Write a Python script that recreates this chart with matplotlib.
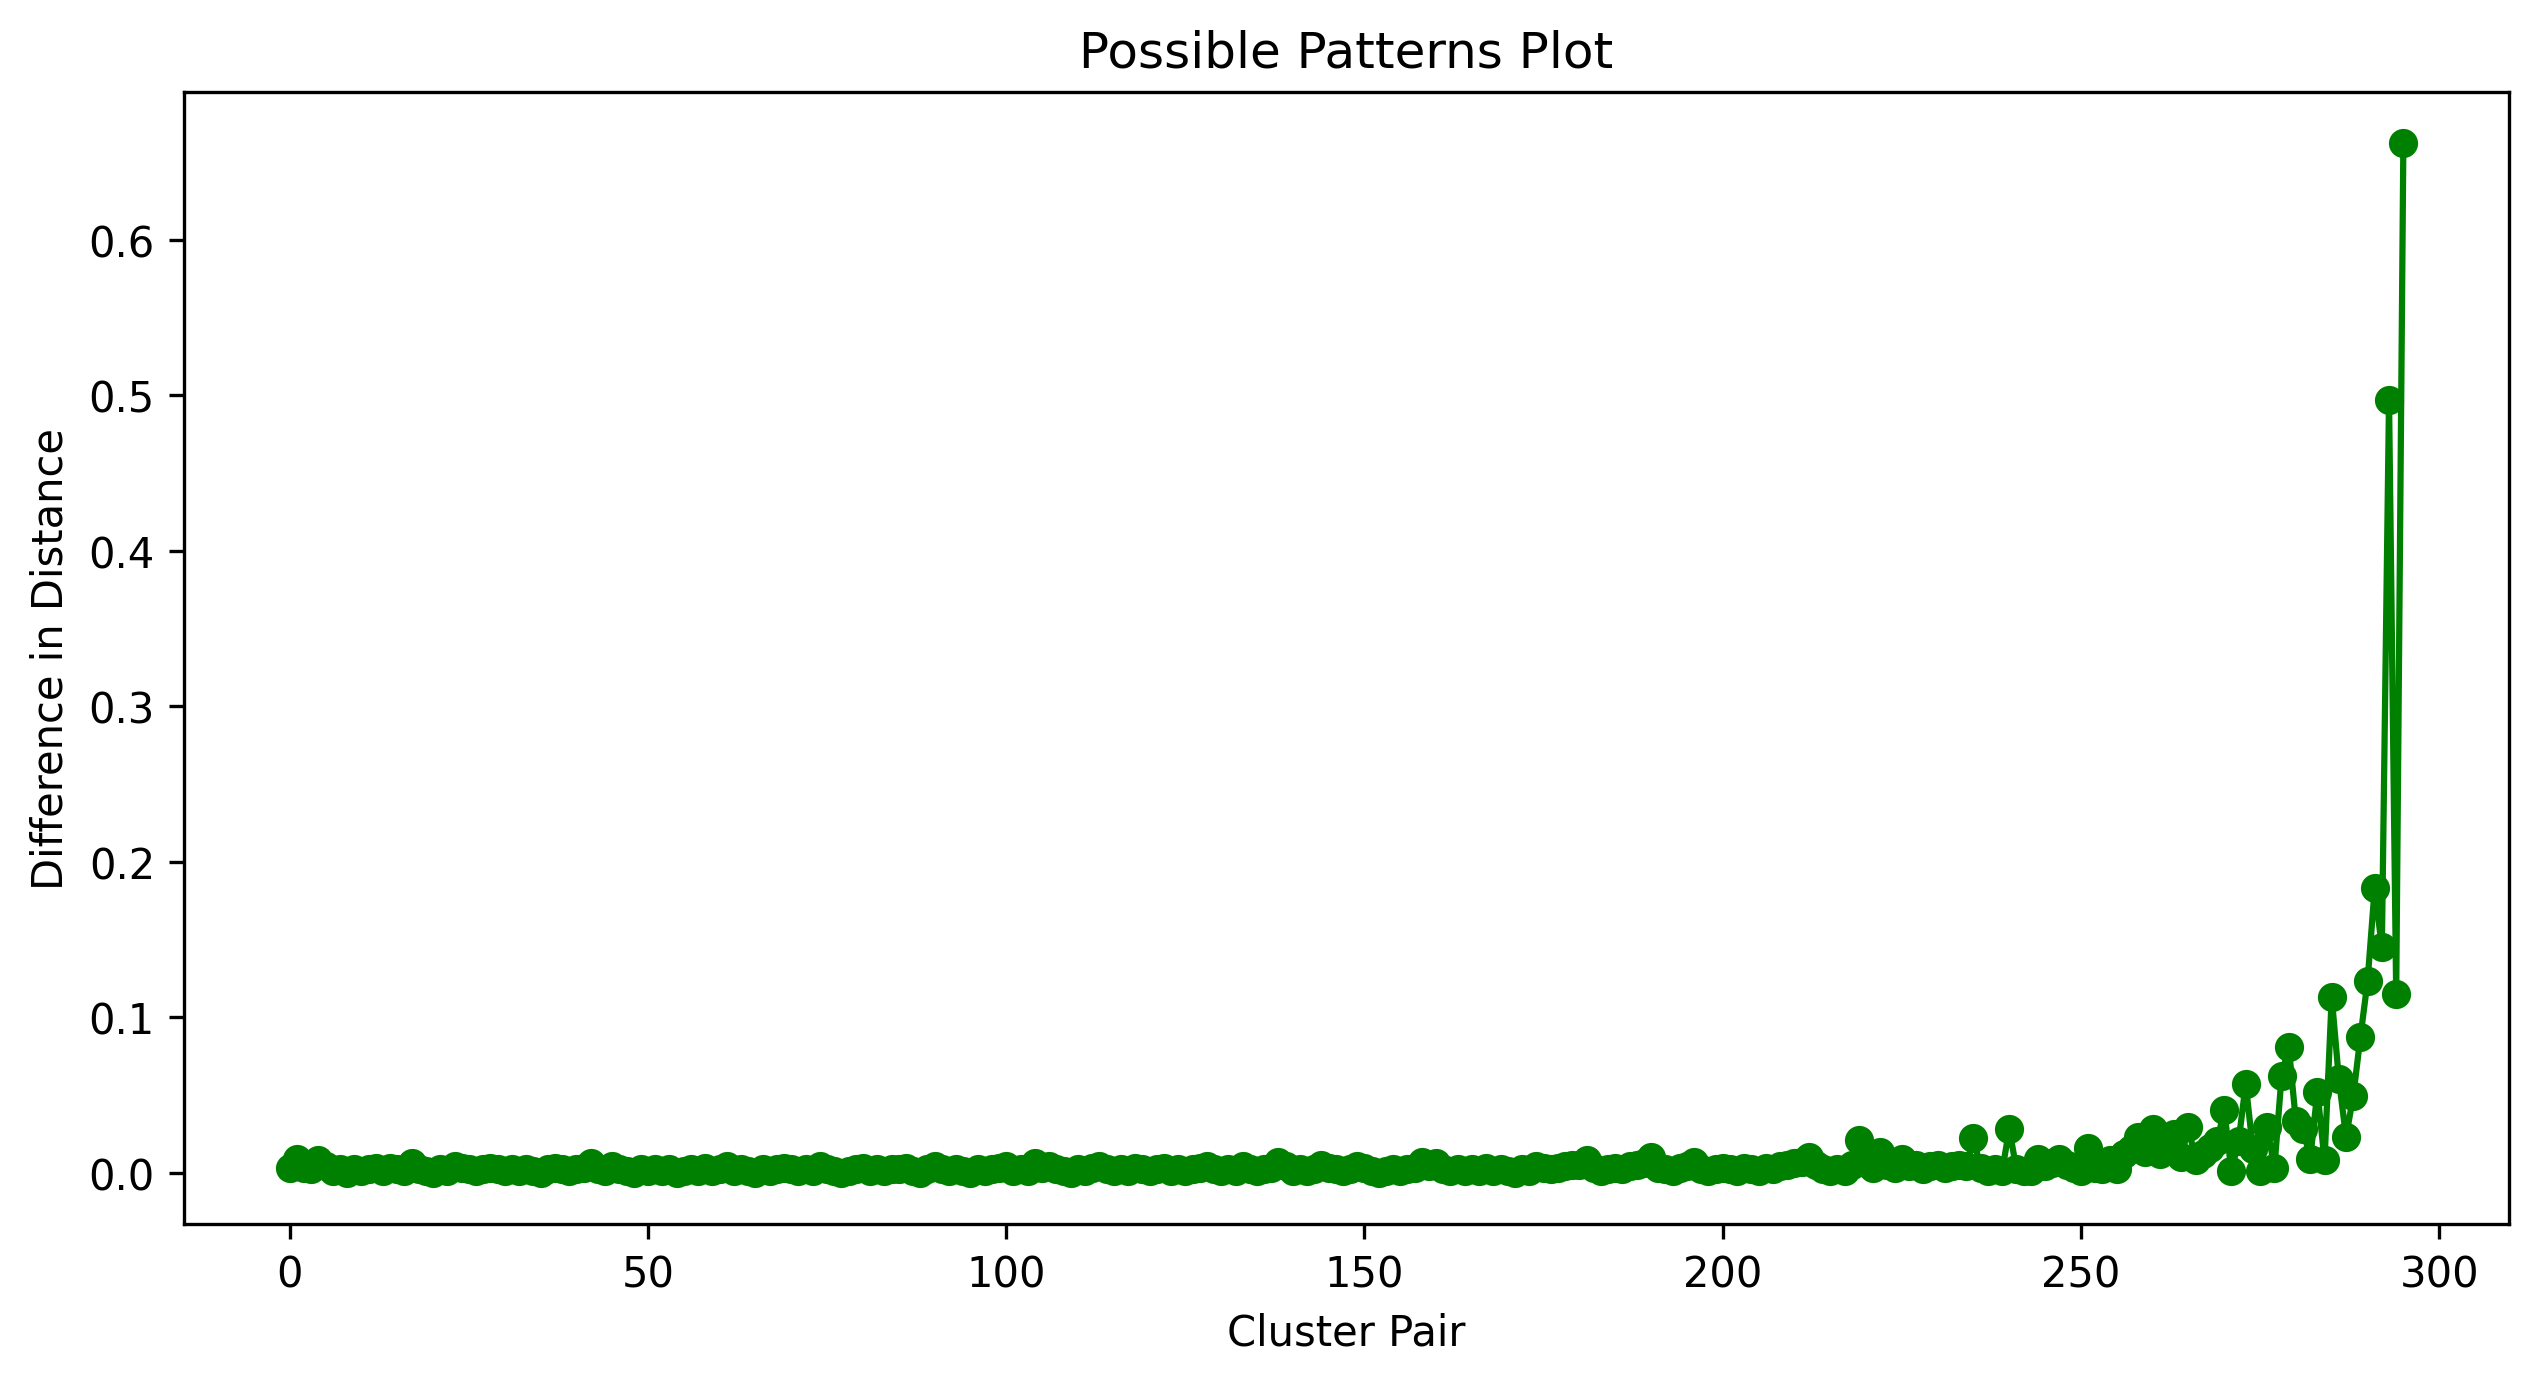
import matplotlib
matplotlib.use("Agg")
import matplotlib.pyplot as plt
import numpy as np

# difference in distance per cluster pair
diffs = [
    0.003, 0.009, 0.003, 0.002, 0.008, 0.004, 0.001, 0.002, 0.000, 0.002,
    0.001, 0.002, 0.003, 0.001, 0.003, 0.002, 0.001, 0.006, 0.002, 0.001,
    0.000, 0.002, 0.001, 0.004, 0.003, 0.002, 0.001, 0.002, 0.003, 0.002,
    0.001, 0.002, 0.001, 0.002, 0.001, 0.000, 0.002, 0.003, 0.002, 0.001,
    0.002, 0.003, 0.006, 0.002, 0.001, 0.004, 0.002, 0.001, 0.000, 0.002,
    0.001, 0.002, 0.001, 0.002, 0.000, 0.001, 0.002, 0.001, 0.003, 0.001,
    0.002, 0.004, 0.001, 0.002, 0.001, 0.000, 0.002, 0.001, 0.002, 0.003,
    0.002, 0.001, 0.002, 0.001, 0.004, 0.002, 0.001, 0.000, 0.001, 0.002,
    0.003, 0.001, 0.002, 0.001, 0.002, 0.002, 0.003, 0.001, 0.000, 0.002,
    0.004, 0.002, 0.001, 0.002, 0.001, 0.000, 0.002, 0.001, 0.002, 0.003,
    0.004, 0.001, 0.002, 0.001, 0.006, 0.003, 0.004, 0.002, 0.001, 0.000,
    0.002, 0.001, 0.003, 0.004, 0.002, 0.001, 0.002, 0.001, 0.003, 0.002,
    0.001, 0.002, 0.003, 0.001, 0.002, 0.001, 0.002, 0.003, 0.004, 0.002,
    0.001, 0.002, 0.001, 0.004, 0.002, 0.001, 0.002, 0.003, 0.007, 0.004,
    0.001, 0.002, 0.001, 0.002, 0.005, 0.003, 0.002, 0.001, 0.002, 0.004,
    0.003, 0.001, 0.000, 0.001, 0.002, 0.001, 0.002, 0.003, 0.007, 0.004,
    0.006, 0.002, 0.001, 0.002, 0.001, 0.002, 0.001, 0.003, 0.001, 0.002,
    0.001, 0.000, 0.002, 0.001, 0.004, 0.003, 0.002, 0.003, 0.004, 0.005,
    0.005, 0.008, 0.003, 0.001, 0.002, 0.003, 0.002, 0.004, 0.005, 0.006,
    0.010, 0.003, 0.002, 0.001, 0.003, 0.004, 0.007, 0.002, 0.001, 0.002,
    0.003, 0.002, 0.001, 0.003, 0.002, 0.001, 0.003, 0.002, 0.004, 0.005,
    0.006, 0.007, 0.010, 0.005, 0.002, 0.001, 0.002, 0.001, 0.005, 0.021,
    0.006, 0.003, 0.013, 0.005, 0.003, 0.009, 0.004, 0.005, 0.002, 0.004,
    0.005, 0.003, 0.004, 0.005, 0.004, 0.022, 0.003, 0.001, 0.002, 0.001,
    0.028, 0.002, 0.001, 0.001, 0.009, 0.004, 0.006, 0.009, 0.005, 0.003,
    0.001, 0.016, 0.003, 0.002, 0.008, 0.002, 0.012, 0.015, 0.023, 0.013,
    0.028, 0.012, 0.020, 0.025, 0.010, 0.029, 0.008, 0.012, 0.016, 0.020,
    0.040, 0.001, 0.020, 0.057, 0.015, 0.001, 0.029, 0.003, 0.062, 0.081,
    0.033, 0.028, 0.009, 0.052, 0.008, 0.113, 0.060, 0.023, 0.049, 0.087,
    0.123, 0.183, 0.145, 0.497, 0.115, 0.662,
]
pairs = np.arange(len(diffs))

fig = plt.figure(figsize=(2539 / 300, 1385 / 300), dpi=300)
ax = fig.add_axes([0.0725, 0.1155, 0.9157, 0.8174])

ax.plot(pairs, diffs, marker='o', color='green')
ax.set_title('Possible Patterns Plot')
ax.set_xlabel('Cluster Pair')
ax.set_ylabel('Difference in Distance')

fig.savefig('out.png', dpi=300)
